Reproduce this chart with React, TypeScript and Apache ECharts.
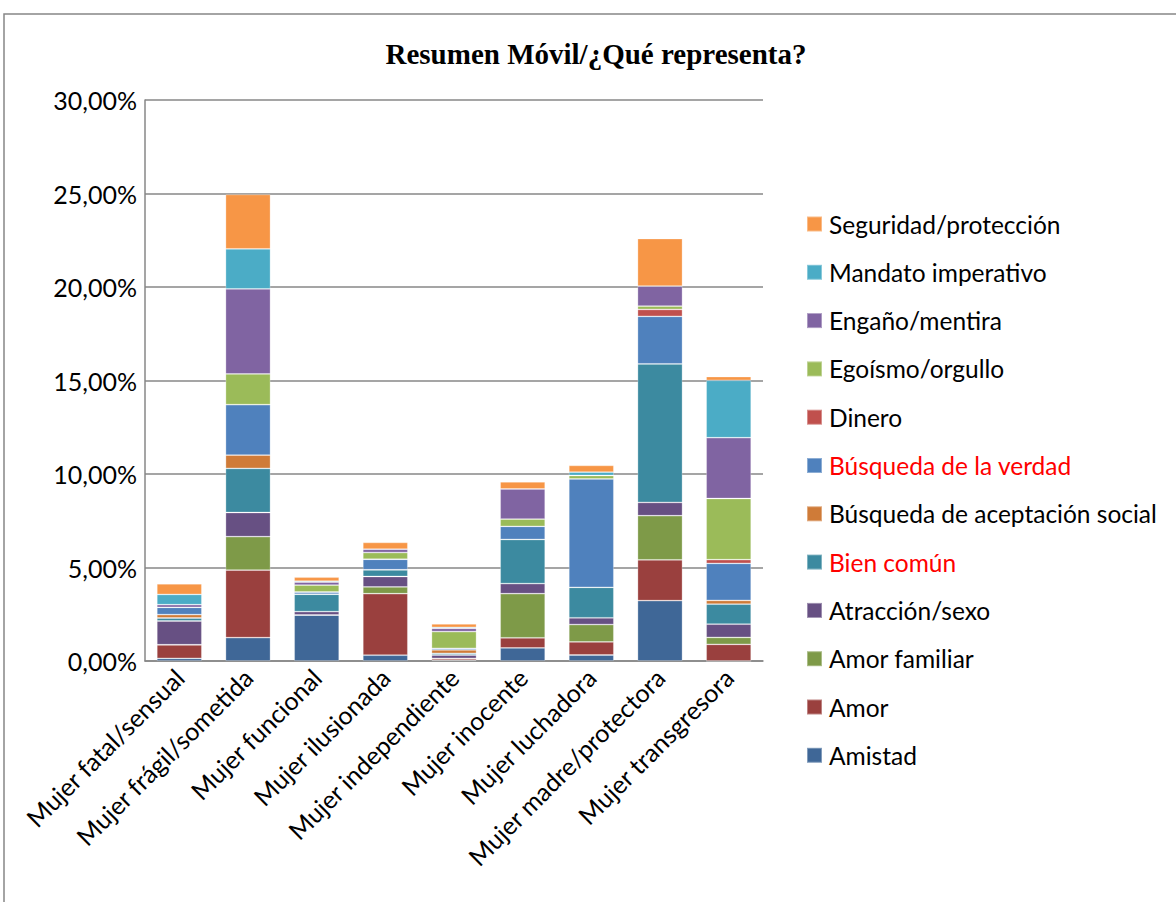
import React, { useEffect, useRef } from "react";
import * as echarts from "echarts";

const categories = [
  "Mujer fatal/sensual",
  "Mujer frágil/sometida",
  "Mujer funcional",
  "Mujer ilusionada",
  "Mujer independiente",
  "Mujer inocente",
  "Mujer luchadora",
  "Mujer madre/protectora",
  "Mujer transgresora",
];

const seriesNames = [
  "Amistad",
  "Amor",
  "Amor familiar",
  "Atracción/sexo",
  "Bien común",
  "Búsqueda de aceptación social",
  "Búsqueda de la verdad",
  "Dinero",
  "Egoísmo/orgullo",
  "Engaño/mentira",
  "Mandato imperativo",
  "Seguridad/protección",
];

const amistad = [0.14, 1.25, 2.46, 0.31, 0.05, 0.7, 0.32, 3.23, 0];
const amor = [0.73, 3.61, 0, 3.29, 0.09, 0.54, 0.7, 2.18, 0.89];
const amorFamiliar = [0, 1.79, 0, 0.36, 0, 2.36, 0.93, 2.36, 0.37];
const atraccion = [1.27, 1.29, 0.18, 0.56, 0.18, 0.54, 0.36, 0.71, 0.71];
const bienComun = [0.16, 2.36, 0.93, 0.36, 0.09, 2.36, 1.63, 7.41, 1.07];
const aceptacion = [0.18, 0.71, 0, 0, 0.18, 0, 0, 0, 0.2];
const verdad = [0.39, 2.7, 0.12, 0.56, 0.09, 0.7, 5.8, 2.54, 1.98];
const dinero = [0, 0, 0, 0, 0, 0, 0, 0.37, 0.2];
const egoismo = [0, 1.64, 0.37, 0.36, 0.89, 0.39, 0.18, 0.18, 3.27];
const engano = [0.14, 4.55, 0.16, 0.18, 0.18, 1.61, 0, 1.07, 3.25];
const mandato = [0.55, 2.14, 0.05, 0, 0.05, 0, 0.18, 0, 3.07];
const seguridad = [0.57, 2.91, 0.21, 0.36, 0.18, 0.38, 0.36, 2.54, 0.2];

const seriesValues = [
  amistad, amor, amorFamiliar, atraccion, bienComun, aceptacion,
  verdad, dinero, egoismo, engano, mandato, seguridad,
];

const colors = [
  "#3F6797", "#9A403E", "#7E9A48", "#675083", "#3C8AA0", "#CF7B38",
  "#4F81BD", "#C0504D", "#9BBB59", "#8064A2", "#4BACC6", "#F79646",
];

const redLegend = ["Búsqueda de la verdad", "Bien común"];

const FONT = "Lato, 'Open Sans', sans-serif";

export default function App() {
  const ref = useRef<HTMLDivElement>(null);
  useEffect(() => {
    if (!ref.current) return;
    const chart = echarts.init(ref.current, undefined, { renderer: "svg" });
    chart.setOption({
      animation: false,
      backgroundColor: "#ffffff",
      graphic: [
        {
          type: "rect",
          shape: { x: 4, y: 14, width: 1200, height: 1000 },
          style: { fill: "none", stroke: "#878787", lineWidth: 1.5 },
          silent: true,
        },
        {
          type: "text",
          x: 596,
          y: 54,
          style: {
            text: "Resumen Móvil/¿Qué representa?",
            font: "bold 29px 'Liberation Serif', 'Times New Roman', serif",
            fill: "#000",
            textAlign: "center",
            textVerticalAlign: "middle",
          },
        },
      ],
      grid: { left: 145, top: 100, width: 618, height: 561, containLabel: false },
      legend: {
        orient: "vertical",
        left: 806,
        top: 211,
        padding: 0,
        icon: "rect",
        itemWidth: 15,
        itemHeight: 15,
        itemGap: 22.3,
        data: [...seriesNames].reverse(),
        formatter: (n: string) => (redLegend.includes(n) ? `{r|${n}}` : n),
        textStyle: {
          fontFamily: FONT,
          fontSize: 24.5,
          color: "#000",
          lineHeight: 26,
          padding: [0, 0, 0, 2],
          rich: { r: { color: "#ff0000", fontFamily: FONT, fontSize: 24.5, lineHeight: 26 } },
        },
      },
      xAxis: {
        type: "category",
        data: categories,
        axisLine: { show: true, lineStyle: { color: "#878787", width: 1.5 } },
        axisTick: { show: false },
        axisLabel: {
          interval: 0,
          rotate: 45,
          fontFamily: FONT,
          fontSize: 25,
          color: "#000",
          margin: 12,
        },
      },
      yAxis: {
        type: "value",
        min: 0,
        max: 30,
        interval: 5,
        axisLine: { show: true, lineStyle: { color: "#878787", width: 1.5 } },
        axisTick: { show: false },
        splitLine: { show: true, lineStyle: { color: "#878787", width: 1.5 } },
        axisLabel: {
          fontFamily: FONT,
          fontSize: 25,
          color: "#000",
          margin: 8,
          formatter: (v: number) => v.toFixed(2).replace(".", ",") + "%",
        },
      },
      series: seriesNames.map((name, i) => ({
        name,
        type: "bar",
        stack: "total",
        barWidth: 45,
        data: seriesValues[i],
        itemStyle: {
          color: colors[i],
          borderColor: "rgba(255,255,255,0.35)",
          borderWidth: 0.8,
        },
      })),
    });
    return () => chart.dispose();
  }, []);
  return (
    <div
      ref={ref}
      style={{ position: "absolute", left: 0, top: 0, width: 1176, height: 902 }}
    />
  );
}
